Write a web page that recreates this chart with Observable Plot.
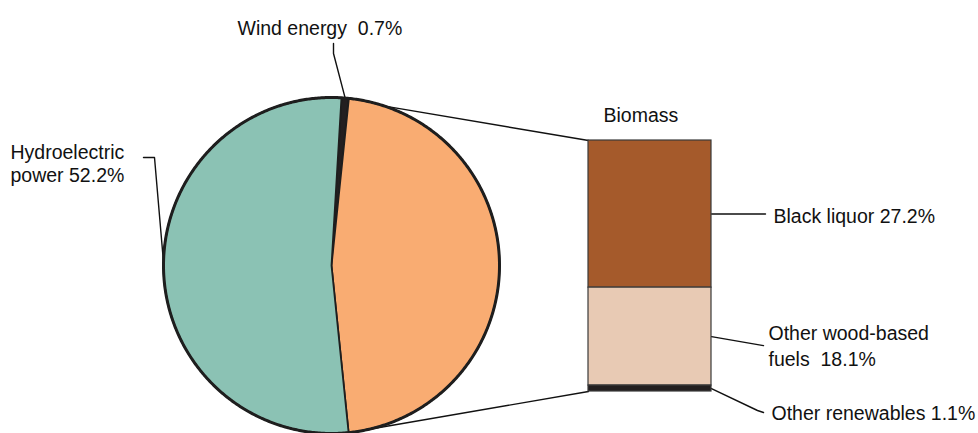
<!DOCTYPE html>
<html><head><meta charset="utf-8">
<script src="https://cdn.jsdelivr.net/npm/d3@7"></script>
<script src="https://cdn.jsdelivr.net/npm/@observablehq/plot@0.6"></script>
<style>body{margin:0;background:#fff}</style>
</head><body><div id="chart"></div>
<script>
// ---- data ----
const pieCategories = ["Wind energy", "Biomass", "Hydroelectric power"];
const windShare = 0.7;
const hydroShare = 52.2;
const biomassCategories = ["Black liquor", "Other wood-based fuels", "Other renewables"];
const biomassShares = [27.2, 18.1, 1.1];
const pieShares = [windShare, d3.sum(biomassShares), hydroShare];
const pieLabelTexts = ["Wind energy  0.7%", "Biomass", "Hydroelectric\npower 52.2%"];
const biomassLabelTexts = ["Black liquor 27.2%", "Other wood-based\nfuels  18.1%", "Other renewables 1.1%"];

// ---- styles / layout ----
const pieColors = ["#231f20", "#f9ac72", "#8bc2b4"];
const barColors = ["#a55a2b", "#e8cab4", "#231f20"];
const W = 978, H = 433;
const L = {cx: 331, cy: 265, r: 168, startDeg: 3.4, barX1: 588, barX2: 711, barY1: 140, barY2: 391};
const rad = d => d * Math.PI / 180;
const onCircle = (deg, rr = L.r) => ({x: L.cx + rr * Math.sin(rad(deg)), y: L.cy - rr * Math.cos(rad(deg))});

// pie slices
const arcs = d3.pie().sort(null).startAngle(rad(L.startDeg)).endAngle(rad(L.startDeg + 360))(pieShares);
const slicePts = [];
arcs.forEach((a, i) => {
  slicePts.push({k: i, x: L.cx, y: L.cy});
  const n = Math.max(2, Math.ceil((a.endAngle - a.startAngle) / rad(0.5)));
  for (let j = 0; j <= n; j++) {
    const t = a.startAngle + (a.endAngle - a.startAngle) * j / n;
    slicePts.push({k: i, x: L.cx + L.r * Math.sin(t), y: L.cy - L.r * Math.cos(t)});
  }
  slicePts.push({k: i, x: L.cx, y: L.cy});
});
const circlePts = d3.range(0, 361, 0.5).map(d => onCircle(d));

// bar
const barY = d3.scaleLinear().domain([0, d3.sum(biomassShares)]).range([L.barY1, L.barY2]);
const cum = d3.cumsum(biomassShares);
const barRows = biomassCategories.map((c, i) => ({
  c, i, y1: barY(cum[i] - biomassShares[i]), y2: barY(cum[i])
}));
const midBar = i => (barRows[i].y1 + barRows[i].y2) / 2;

// leader / connector lines
const windMid = onCircle((arcs[0].startAngle + arcs[0].endAngle) / 2 * 180 / Math.PI);
const leaders = [
  {id: "wind", pts: [windMid, {x: 333, y: 53}, {x: 333, y: 43}]},
  {id: "hydro", pts: [onCircle(271), {x: 154, y: 157}, {x: 143, y: 157}]},
  {id: "top", pts: [onCircle(18.5), {x: L.barX1, y: L.barY1}]},
  {id: "bottom", pts: [onCircle(167), {x: L.barX1, y: L.barY2}]},
  {id: "bl", pts: [{x: L.barX2, y: midBar(0)}, {x: 765, y: midBar(0)}]},
  {id: "wood", pts: [{x: L.barX2, y: midBar(1)}, {x: 763, y: midBar(1) + 9}]},
  {id: "other", pts: [{x: L.barX2, y: midBar(2)}, {x: 757, y: 410}, {x: 763, y: 412}]}
];
const leaderPts = leaders.flatMap(l => l.pts.map(p => ({id: l.id, ...p})));

const labels = [
  {t: pieLabelTexts[0], x: 237, y: 26.6, lh: 1.2},
  {t: pieLabelTexts[2], x: 10, y: 162.6, lh: 1.2},
  {t: pieLabelTexts[1], x: 603, y: 113.6, lh: 1.2},
  {t: biomassLabelTexts[0], x: 773, y: 214.6, lh: 1.2},
  {t: biomassLabelTexts[1], x: 768, y: 344.6, lh: 1.33},
  {t: biomassLabelTexts[2], x: 771, y: 411.6, lh: 1.2}
];

const chart = Plot.plot({
  width: W, height: H,
  margin: 0,
  x: {domain: [0, W], range: [0, W], axis: null},
  y: {domain: [0, H], range: [0, H], axis: null},
  style: {fontFamily: "'Liberation Sans', Arial, sans-serif", background: "#fff", overflow: "hidden"},
  marks: [
    Plot.line(leaderPts, {x: "x", y: "y", z: "id", stroke: "#111", strokeWidth: 1.4}),
    Plot.line(slicePts, {x: "x", y: "y", z: "k", fill: d => pieColors[d.k], stroke: "#1e1e1e", strokeWidth: 1.8, strokeLinejoin: "round"}),
    Plot.line(circlePts, {x: "x", y: "y", stroke: "#1e1e1e", strokeWidth: 3}),
    Plot.rect(barRows, {x1: () => L.barX1, x2: () => L.barX2, y1: "y1", y2: "y2", fill: d => barColors[d.i], stroke: "#3a3a3a", strokeWidth: 1.2}),
    ...labels.map(l => Plot.text([l], {x: "x", y: "y", text: "t", textAnchor: "start", fontSize: 19.5, lineHeight: l.lh, fill: "#111"}))
  ]
});
document.getElementById("chart").appendChild(chart);
</script>
</body></html>
